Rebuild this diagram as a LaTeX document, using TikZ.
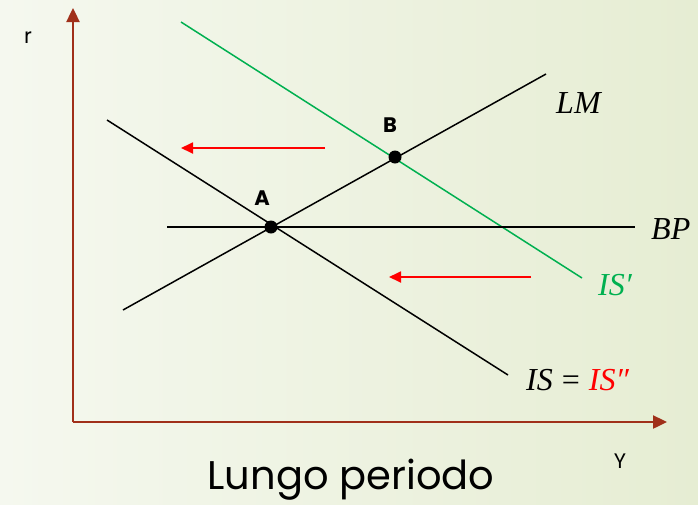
\documentclass[tikz,border=0pt]{standalone}
\usepackage{fontspec}
\setmainfont{Poppins}
\newfontfamily\lblfont{Liberation Serif}
\usetikzlibrary{arrows.meta}
\definecolor{axisc}{HTML}{A0301A}
\definecolor{isgreen}{HTML}{00B050}
\definecolor{bgl}{HTML}{F5F8EF}
\definecolor{bgr}{HTML}{E6EDD3}
\tikzset{
  axis/.style={axisc, line width=2.4pt, -{Triangle[length=14pt,width=13pt]}},
  curve/.style={black, line width=1.5pt},
  movearrow/.style={red, line width=1.8pt, -{Triangle[length=12pt,width=11pt]}},
  dot/.style={circle, fill=black, inner sep=0pt, minimum size=13pt},
  mlab/.style={anchor=west, inner sep=0pt, font=\fontsize{32}{32}\lblfont\itshape},
  ptlab/.style={font=\fontsize{21}{21}\selectfont\bfseries},
  axlab/.style={font=\fontsize{21}{21}\selectfont}
}
\begin{document}
\begin{tikzpicture}[x=1pt,y=-1pt]
\shade[left color=bgl, right color=bgr] (0,0) rectangle (698,504);
\useasboundingbox (0,0) rectangle (698,504);
\coordinate (O) at (73,422);
\coordinate (Ytop) at (73,8);
\coordinate (Xend) at (667,422);
\draw[axis] (O) -- (Ytop);
\draw[axis] (O) -- (Xend);
\node[axlab] (r) at (28,38) {r};
\node[axlab] (Y) at (620,461) {Y};
% curves
\coordinate (ISp1) at (181,22); \coordinate (ISp2) at (582,278);
\coordinate (LM1) at (123,310); \coordinate (LM2) at (546,74);
\coordinate (IS1) at (107,120); \coordinate (IS2) at (508,375);
\coordinate (BP1) at (167,227); \coordinate (BP2) at (635,227);
\draw[isgreen, line width=1.5pt] (ISp1) -- (ISp2);
\draw[curve] (LM1) -- (LM2);
\draw[curve] (IS1) -- (IS2);
\draw[curve] (BP1) -- (BP2);
\node[dot] (A) at (271,227) {};
\node[dot] (B) at (395,157) {};
\node[ptlab] (Alab) at (262,198) {A};
\node[ptlab] (Blab) at (390,125) {B};
% shift arrows
\coordinate (s1a) at (325,148); \coordinate (s1b) at (181,148);
\coordinate (s2a) at (531,277); \coordinate (s2b) at (389,277);
\draw[movearrow] (s1a) -- (s1b);
\draw[movearrow] (s2a) -- (s2b);
% labels
\node[mlab] (LMl) at (556,103) {LM};
\node[mlab] (BPl) at (651,229) {BP};
\node[mlab, text=isgreen] (ISpl) at (598,285) {IS′};
\node[mlab] (ISl) at (526,380) {IS\hspace{9pt}{\upshape=}\hspace{9pt}\textcolor{red}{IS″}};
\node[anchor=base, inner sep=0pt, font=\fontsize{40}{40}\selectfont] (title) at (351,489) {Lungo periodo};
\end{tikzpicture}
\end{document}
